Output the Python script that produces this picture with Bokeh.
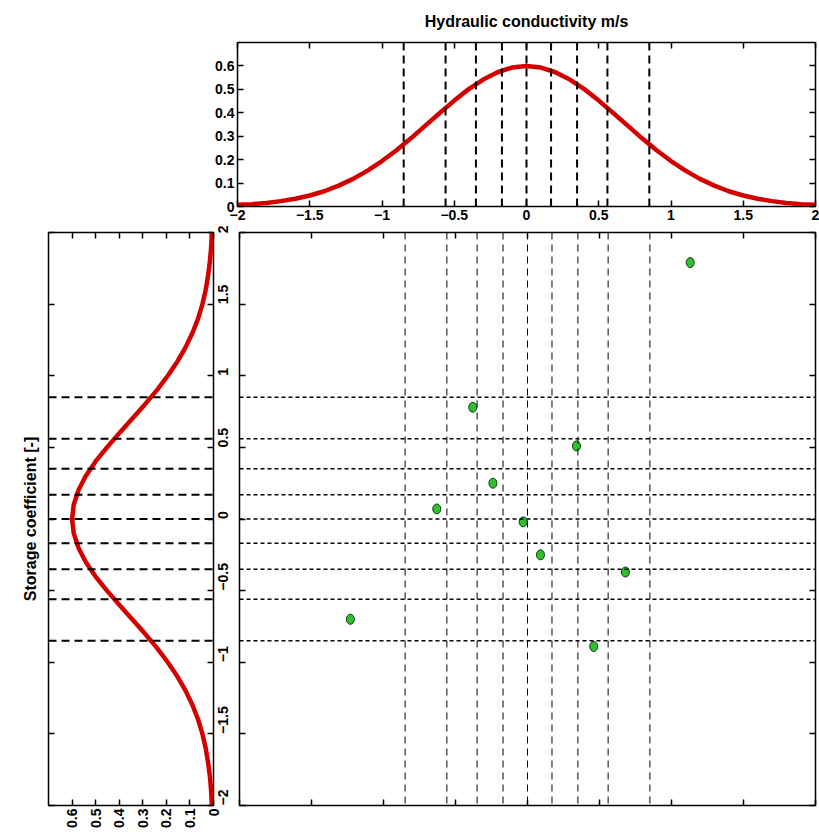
from bokeh.plotting import figure
from bokeh.models import Range1d, FixedTicker, LinearAxis, Spacer, Span
from bokeh.layouts import column, row
from bokeh.embed import file_html
from bokeh.resources import INLINE
import math

# ---------------- data ----------------
pdf_x = [-2.0, -1.9, -1.8, -1.7, -1.6, -1.5, -1.4, -1.3, -1.2, -1.1, -1.0,
         -0.9, -0.8, -0.7, -0.6, -0.5, -0.4, -0.3, -0.2, -0.1, 0.0,
         0.1, 0.2, 0.3, 0.4, 0.5, 0.6, 0.7, 0.8, 0.9, 1.0,
         1.1, 1.2, 1.3, 1.4, 1.5, 1.6, 1.7, 1.8, 1.9, 2.0]
pdf_y = [0.007, 0.010, 0.015, 0.023, 0.033, 0.047, 0.065, 0.089, 0.118, 0.153, 0.194,
         0.240, 0.291, 0.345, 0.399, 0.452, 0.501, 0.542, 0.573, 0.593, 0.600,
         0.593, 0.573, 0.542, 0.501, 0.452, 0.399, 0.345, 0.291, 0.240, 0.194,
         0.153, 0.118, 0.089, 0.065, 0.047, 0.033, 0.023, 0.015, 0.010, 0.007]

quantiles = [-0.85, -0.56, -0.35, -0.17, 0.0, 0.17, 0.35, 0.56, 0.85]

sample_k = [1.13, -0.38, 0.34, -0.24, -0.63, -0.03, 0.09, 0.68, -1.23, 0.46]
sample_s = [1.79, 0.78, 0.51, 0.25, 0.07, -0.02, -0.25, -0.37, -0.70, -0.89]

axis_ticks = [-2, -1.5, -1, -0.5, 0, 0.5, 1, 1.5, 2]
axis_tick_labels = ["\u22122", "\u22121.5", "\u22121", "\u22120.5", "0", "0.5", "1", "1.5", "2"]
pdf_ticks = [0, 0.1, 0.2, 0.3, 0.4, 0.5, 0.6]
pdf_tick_labels = ["0", "0.1", "0.2", "0.3", "0.4", "0.5", "0.6"]

title_text = "Hydraulic conductivity m/s"
ylabel_text = "Storage coefficient [-]"

FONT = "Liberation Sans"
RED = "#d40000"


def style_axis(ax, ticks, labels=None, show=True, orient=None, standoff=3):
    ax.ticker = FixedTicker(ticks=ticks)
    ax.major_tick_in = 6
    ax.major_tick_out = 0
    ax.minor_tick_in = 0
    ax.minor_tick_out = 0
    ax.axis_line_color = None
    ax.major_tick_line_color = "black"
    ax.major_tick_line_width = 1.5
    ax.major_label_text_font = FONT
    ax.major_label_text_font_style = "bold"
    if show:
        ax.major_label_text_color = "black"
        ax.major_label_text_font_size = "14px"
        ax.major_label_standoff = standoff
        if labels is not None:
            ax.major_label_overrides = {t: l for t, l in zip(ticks, labels)}
        if orient is not None:
            ax.major_label_orientation = orient
    else:
        ax.major_label_text_color = None
        ax.major_label_text_font_size = "1px"
        ax.major_label_standoff = 0


def base_fig(**kw):
    p = figure(output_backend="svg", toolbar_location=None, **kw)
    p.grid.visible = False
    p.outline_line_color = "black"
    p.outline_line_width = 1.5
    p.background_fill_color = "white"
    p.border_fill_color = "white"
    return p


# ---------------- top panel ----------------
top = base_fig(width=619, height=225, x_range=Range1d(-2, 2), y_range=Range1d(0, 0.7),
               min_border_left=37, min_border_right=4, min_border_top=42, min_border_bottom=19)
top.title.text = title_text
top.title.align = "center"
top.title.vertical_align = "top"
top.title.text_font = FONT
top.title.text_font_style = "bold"
top.title.text_font_size = "16px"
top.title.text_color = "black"
top.title.standoff = 22
style_axis(top.xaxis[0], axis_ticks, axis_tick_labels)
style_axis(top.yaxis[0], pdf_ticks, pdf_tick_labels)
ax = LinearAxis(); style_axis(ax, pdf_ticks, show=False); top.add_layout(ax, "right")
ax = LinearAxis(); style_axis(ax, axis_ticks, show=False); top.add_layout(ax, "above")
for q in quantiles:
    top.add_layout(Span(location=q, dimension="height", line_color="black",
                        line_width=2, line_dash="8 5"))
top.line(pdf_x, pdf_y, line_color=RED, line_width=4.5)

# ---------------- left panel (carries the shared storage-coefficient tick labels) ----------------
left = base_fig(width=238, height=614, x_range=Range1d(0.7, 0), y_range=Range1d(-2, 2),
                min_border_left=48, min_border_right=25, min_border_top=7, min_border_bottom=34)
style_axis(left.xaxis[0], pdf_ticks, pdf_tick_labels, orient=math.pi / 2)
style_axis(left.yaxis[0], axis_ticks, show=False)
left.yaxis[0].axis_label = ylabel_text
left.yaxis[0].axis_label_text_font = FONT
left.yaxis[0].axis_label_text_font_style = "bold"
left.yaxis[0].axis_label_text_font_size = "16px"
left.yaxis[0].axis_label_text_color = "black"
left.yaxis[0].axis_label_standoff = 10
ax = LinearAxis()
style_axis(ax, axis_ticks, axis_tick_labels, orient=math.pi / 2, standoff=9)
left.add_layout(ax, "right")
ax = LinearAxis(); style_axis(ax, pdf_ticks, show=False); left.add_layout(ax, "above")
for q in quantiles:
    left.add_layout(Span(location=q, dimension="width", line_color="black",
                         line_width=2, line_dash="8 5"))
left.line(pdf_y, pdf_x, line_color=RED, line_width=4.5)

# ---------------- main scatter panel ----------------
main = base_fig(width=581, height=614, x_range=Range1d(-2, 2), y_range=Range1d(-2, 2),
                min_border_left=1, min_border_right=4, min_border_top=7, min_border_bottom=34)
style_axis(main.xaxis[0], axis_ticks, show=False)
style_axis(main.yaxis[0], axis_ticks, show=False)
ax = LinearAxis(); style_axis(ax, axis_ticks, show=False); main.add_layout(ax, "right")
ax = LinearAxis(); style_axis(ax, axis_ticks, show=False); main.add_layout(ax, "above")
for q in quantiles:
    main.add_layout(Span(location=q, dimension="height", line_color="black",
                         line_width=1, line_dash="7 5"))
    main.add_layout(Span(location=q, dimension="width", line_color="black",
                         line_width=1.5, line_dash="4 3"))
main.ellipse(x=sample_k, y=sample_s, width=8, height=10,
             width_units="screen", height_units="screen",
             fill_color="#2fbf2f", line_color="#0d3d0d", line_width=1)

layout = column(row(Spacer(width=200, height=225), top), row(left, main))

with open("out.html", "w") as f:
    f.write(file_html(layout, INLINE))
